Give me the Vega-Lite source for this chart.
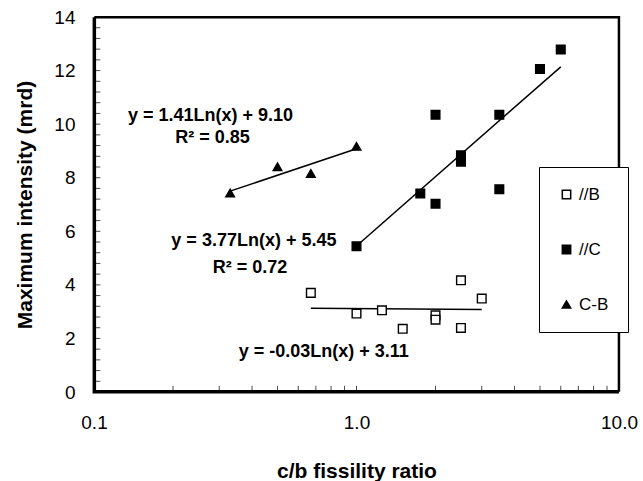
{
  "$schema": "https://vega.github.io/schema/vega-lite/v6.json",
  "width": 643,
  "height": 481,
  "autosize": {"type": "fit", "contains": "padding"},
  "padding": {"left": 14, "top": 8, "right": 5, "bottom": 0},
  "background": "white",
  "config": {
    "font": "Liberation Sans",
    "view": {"stroke": null},
    "axis": {"grid": false, "domain": false, "ticks": false, "labelColor": "black", "titleColor": "black", "labelFont": "Liberation Sans", "titleFont": "Liberation Sans"}
  },
  "datasets": {
    "points": [
      {"series": "//C", "x": 1.0, "y": 5.44},
      {"series": "//C", "x": 1.75, "y": 7.41},
      {"series": "//C", "x": 2.0, "y": 7.03},
      {"series": "//C", "x": 2.0, "y": 10.35},
      {"series": "//C", "x": 2.5, "y": 8.84},
      {"series": "//C", "x": 2.5, "y": 8.6},
      {"series": "//C", "x": 3.5, "y": 10.35},
      {"series": "//C", "x": 3.5, "y": 7.57},
      {"series": "//C", "x": 5.0, "y": 12.06},
      {"series": "//C", "x": 6.0, "y": 12.79},
      {"series": "C-B", "x": 0.33, "y": 7.43},
      {"series": "C-B", "x": 0.5, "y": 8.41},
      {"series": "C-B", "x": 0.67, "y": 8.16},
      {"series": "C-B", "x": 1.0, "y": 9.17},
      {"series": "//B", "x": 0.67, "y": 3.7},
      {"series": "//B", "x": 1.0, "y": 2.93},
      {"series": "//B", "x": 1.25, "y": 3.05},
      {"series": "//B", "x": 1.5, "y": 2.36},
      {"series": "//B", "x": 2.0, "y": 2.86},
      {"series": "//B", "x": 2.0, "y": 2.7},
      {"series": "//B", "x": 2.5, "y": 4.17},
      {"series": "//B", "x": 2.5, "y": 2.39},
      {"series": "//B", "x": 3.0, "y": 3.49}
    ],
    "trends": [
      {"series": "//C", "x": 1.0, "y": 5.45},
      {"series": "//C", "x": 6.0, "y": 12.14},
      {"series": "C-B", "x": 0.33, "y": 7.5},
      {"series": "C-B", "x": 1.0, "y": 9.08},
      {"series": "//B", "x": 0.67, "y": 3.13},
      {"series": "//B", "x": 3.0, "y": 3.08}
    ],
    "frame": [
      {"side": "thick", "k": 1, "x": 0.1003, "y": 13.99},
      {"side": "thick", "k": 2, "x": 0.1003, "y": 0.01},
      {"side": "thick", "k": 3, "x": 9.995, "y": 0.01},
      {"side": "thin", "k": 1, "x": 0.1003, "y": 13.99},
      {"side": "thin", "k": 2, "x": 9.995, "y": 13.99},
      {"side": "thin", "k": 3, "x": 9.995, "y": 0.01}
    ],
    "xticks": [
      {"x": 0.2, "y": 0.01}, {"x": 0.3, "y": 0.01}, {"x": 0.4, "y": 0.01}, {"x": 0.5, "y": 0.01}, {"x": 0.6, "y": 0.01}, {"x": 0.7, "y": 0.01}, {"x": 0.8, "y": 0.01}, {"x": 0.9, "y": 0.01},
      {"x": 1, "y": 0.01}, {"x": 2, "y": 0.01}, {"x": 3, "y": 0.01}, {"x": 4, "y": 0.01}, {"x": 5, "y": 0.01}, {"x": 6, "y": 0.01}, {"x": 7, "y": 0.01}, {"x": 8, "y": 0.01}, {"x": 9, "y": 0.01}
    ],
    "yticks": [
      {"x": 0.1003, "y": 0.4}, {"x": 0.1003, "y": 0.8}, {"x": 0.1003, "y": 1.2}, {"x": 0.1003, "y": 1.6}, {"x": 0.1003, "y": 2}, {"x": 0.1003, "y": 2.4}, {"x": 0.1003, "y": 2.8}, {"x": 0.1003, "y": 3.2}, {"x": 0.1003, "y": 3.6}, {"x": 0.1003, "y": 4},
      {"x": 0.1003, "y": 4.4}, {"x": 0.1003, "y": 4.8}, {"x": 0.1003, "y": 5.2}, {"x": 0.1003, "y": 5.6}, {"x": 0.1003, "y": 6}, {"x": 0.1003, "y": 6.4}, {"x": 0.1003, "y": 6.8}, {"x": 0.1003, "y": 7.2}, {"x": 0.1003, "y": 7.6}, {"x": 0.1003, "y": 8},
      {"x": 0.1003, "y": 8.4}, {"x": 0.1003, "y": 8.8}, {"x": 0.1003, "y": 9.2}, {"x": 0.1003, "y": 9.6}, {"x": 0.1003, "y": 10}, {"x": 0.1003, "y": 10.4}, {"x": 0.1003, "y": 10.8}, {"x": 0.1003, "y": 11.2}, {"x": 0.1003, "y": 11.6}, {"x": 0.1003, "y": 12},
      {"x": 0.1003, "y": 12.4}, {"x": 0.1003, "y": 12.8}, {"x": 0.1003, "y": 13.2}, {"x": 0.1003, "y": 13.6}
    ],
    "labels": [
      {"text": "y = 1.41Ln(x) + 9.10", "x": 0.278, "y": 10.32},
      {"text": "R² = 0.85", "x": 0.283, "y": 9.5},
      {"text": "y = 3.77Ln(x) + 5.45", "x": 0.4066, "y": 5.63},
      {"text": "R² = 0.72", "x": 0.3926, "y": 4.62},
      {"text": "y = -0.03Ln(x) + 3.11", "x": 0.7507, "y": 1.5}
    ]
  },
  "encoding": {
    "x": {
      "field": "x", "type": "quantitative",
      "scale": {"type": "log", "domain": [0.1, 10], "nice": false},
      "axis": {
        "title": "c/b fissility ratio",
        "titleFontSize": 21, "titleFontWeight": "bold", "titlePadding": 28,
        "values": [0.1, 1, 10],
        "format": ".1f",
        "labelPadding": 21, "labelFontSize": 19,
        "labelFlush": false, "labelOverlap": false, "labelBound": false
      }
    },
    "y": {
      "field": "y", "type": "quantitative",
      "scale": {"domain": [0, 14], "nice": false, "zero": true},
      "axis": {
        "title": "Maximum intensity (mrd)",
        "titleFontSize": 21, "titleFontWeight": "bold", "titlePadding": 18,
        "values": [0, 2, 4, 6, 8, 10, 12, 14],
        "labelPadding": 19, "labelFontSize": 19,
        "labelFlush": false, "labelOverlap": false, "labelBound": false
      }
    }
  },
  "layer": [
    {
      "data": {"name": "frame"},
      "transform": [{"filter": "datum.side == 'thick'"}],
      "mark": {"type": "line", "color": "black", "strokeWidth": 3.5},
      "encoding": {"order": {"field": "k", "type": "quantitative"}}
    },
    {
      "data": {"name": "frame"},
      "transform": [{"filter": "datum.side == 'thin'"}],
      "mark": {"type": "line", "color": "black", "strokeWidth": 2.5},
      "encoding": {"order": {"field": "k", "type": "quantitative"}}
    },
    {
      "data": {"name": "xticks"},
      "mark": {"type": "tick", "orient": "vertical", "color": "black", "size": 6, "thickness": 1, "yOffset": -3}
    },
    {
      "data": {"name": "yticks"},
      "mark": {"type": "tick", "orient": "horizontal", "color": "black", "size": 6, "thickness": 1, "xOffset": 3}
    },
    {
      "data": {"name": "trends"},
      "mark": {"type": "line", "color": "black", "strokeWidth": 1.5},
      "encoding": {"detail": {"field": "series"}}
    },
    {
      "data": {"name": "points"},
      "mark": {"type": "point", "stroke": "black", "strokeWidth": 1.4, "opacity": 1, "fillOpacity": 1, "size": 75},
      "encoding": {
        "shape": {
          "field": "series", "type": "nominal",
          "scale": {"domain": ["//B", "//C", "C-B"], "range": ["square", "square", "triangle-up"]},
          "legend": {"title": null, "orient": "none", "legendX": 445, "legendY": 150, "padding": 19, "rowPadding": 37, "labelFontSize": 17, "labelOffset": 4, "strokeColor": "black", "fillColor": "white", "symbolSize": 70}
        },
        "fill": {
          "field": "series", "type": "nominal",
          "scale": {"domain": ["//B", "//C", "C-B"], "range": ["white", "black", "black"]},
          "legend": {"title": null, "orient": "none", "legendX": 445, "legendY": 150, "padding": 19, "rowPadding": 37, "labelFontSize": 17, "labelOffset": 4, "strokeColor": "black", "fillColor": "white", "symbolSize": 70}
        }
      }
    },
    {
      "data": {"name": "labels"},
      "mark": {"type": "text", "font": "Liberation Sans", "fontWeight": "bold", "fontSize": 18, "align": "center", "baseline": "middle", "color": "black"},
      "encoding": {"text": {"field": "text"}}
    }
  ]
}
